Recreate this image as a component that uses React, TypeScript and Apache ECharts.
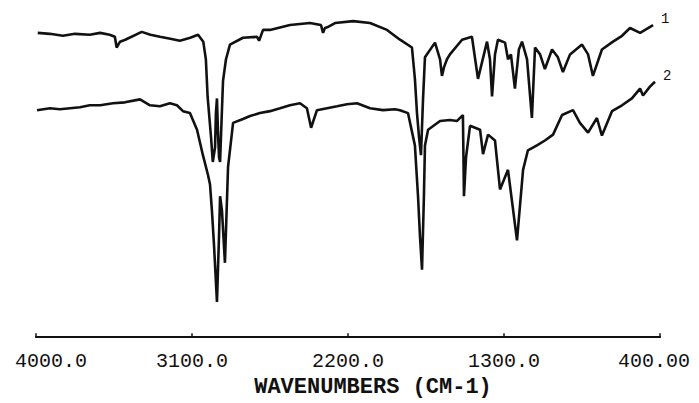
import React, { useEffect, useRef } from "react";
import * as echarts from "echarts";

// Wavenumbers (cm-1) and transmittance (%)
const wn1 = [3990,3920,3845,3775,3690,3630,3575,3545,3535,3515,3485,3390,3340,3285,3225,3170,3110,3065,3035,3020,3010,2990,2980,2967,2962,2956,2950,2944,2938,2933,2921,2904,2881,2806,2725,2713,2690,2650,2535,2420,2356,2344,2333,2315,2275,2170,2073,1975,1900,1831,1814,1802,1790,1779,1767,1756,1698,1669,1658,1646,1629,1612,1542,1485,1450,1398,1381,1369,1352,1335,1294,1277,1260,1237,1214,1196,1167,1139,1121,1092,1064,1023,989,960,919,850,815,787,735,671,619,573,515,440];
const t1 = [93.3,93.0,92.4,93.0,92.7,93.3,92.7,92.1,88.8,90.6,91.2,93.6,92.7,92.1,91.5,90.9,91.8,92.7,90.6,85.2,73.8,61.2,53.7,58.2,68.7,73.2,62.7,55.2,53.7,61.2,78.6,85.2,89.7,91.8,92.1,90.9,94.2,94.2,95.7,96.3,95.7,93.3,94.8,95.1,96.3,96.9,96.3,94.2,91.2,88.8,79.2,68.7,61.2,55.8,73.2,85.8,90.3,85.2,80.1,82.8,85.2,86.7,91.2,92.1,79.2,90.6,85.2,73.8,86.7,91.2,90.3,85.2,86.7,76.2,88.2,90.6,85.2,67.2,88.8,86.7,82.2,88.2,85.8,81.3,86.7,89.7,86.7,80.1,88.2,90.6,92.4,94.8,93.3,95.7];

const wn2 = [3994,3920,3862,3804,3746,3690,3630,3556,3487,3400,3371,3342,3285,3227,3187,3152,3112,3071,3037,3008,2996,2985,2973,2956,2944,2938,2927,2910,2892,2863,2806,2765,2708,2650,2592,2535,2477,2437,2413,2379,2321,2263,2206,2148,2073,1998,1929,1900,1854,1814,1796,1785,1773,1762,1756,1738,1669,1612,1571,1537,1531,1519,1496,1438,1421,1392,1352,1323,1277,1225,1190,1162,1110,1064,1017,965,902,862,815,764,735,677,619,562,515,498,458,429];
const t2 = [69.6,70.2,69.9,70.2,70.5,71.1,71.1,71.7,72.0,72.9,72.0,71.1,70.8,71.7,71.1,69.3,68.7,63.6,55.8,49.8,46.8,38.7,28.2,10.8,31.2,43.2,38.7,22.8,52.2,65.7,66.9,67.8,68.7,69.3,70.2,71.1,71.7,70.2,64.2,69.6,70.2,70.8,71.4,71.7,70.2,69.6,69.9,69.6,68.7,58.8,43.2,31.2,20.7,43.2,58.8,63.6,66.3,66.6,66.3,68.1,43.2,55.2,64.8,63.6,56.1,62.1,60.3,45.3,51.3,29.7,51.3,57.3,58.8,60.3,62.1,68.1,69.6,65.7,62.7,67.2,61.8,69.3,71.1,73.2,76.2,74.1,76.8,78.3];

const tickLabels = ["4000.0", "3100.0", "2200.0", "1300.0", "400.00"];
const seriesNames = ["1", "2"];
const axisTitle = "WAVENUMBERS (CM-1)";

const MONO = "'Liberation Mono', 'DejaVu Sans Mono', monospace";

export default function App() {
  const ref = useRef<HTMLDivElement>(null);
  useEffect(() => {
    if (!ref.current) return;
    const chart = echarts.init(ref.current, undefined, { renderer: "svg" });
    const toData = (wn: number[], t: number[]) => wn.map((w, i) => [4000 - w, t[i]]);
    const mkSeries = (name: string, data: number[][]) => ({
      name,
      type: "line",
      data,
      showSymbol: false,
      symbol: "none",
      lineStyle: { color: "#111", width: 2.6 },
      endLabel: {
        show: true,
        formatter: name,
        color: "#111",
        fontFamily: MONO,
        fontSize: 14,
        offset: [0, -6],
      },
    });
    const lbl = { fontFamily: MONO, fontSize: 20, color: "#111" };
    chart.setOption({
      animation: false,
      backgroundColor: "#fff",
      grid: { left: 36, right: 39, top: 11, bottom: 55 },
      xAxis: {
        type: "value",
        min: 0,
        max: 3600,
        interval: 900,
        axisLine: { lineStyle: { color: "#111", width: 2.2 } },
        axisTick: { show: true, inside: true, length: 4, lineStyle: { color: "#111", width: 1.5 } },
        splitLine: { show: false },
        axisLabel: {
          formatter: (v: number) => {
            const i = Math.round(v / 900);
            const s = tickLabels[i] ?? "";
            if (i === 0) return `{first|${s}}`;
            if (i === tickLabels.length - 1) return `{last|${s}}`;
            return `{mid|${s}}`;
          },
          rich: {
            first: { ...lbl, padding: [0, 0, 0, 30] },
            mid: { ...lbl },
            last: { ...lbl, padding: [0, 12, 0, 0] },
          },
          ...lbl,
          margin: 10,
        },
        name: axisTitle,
        nameLocation: "middle",
        nameGap: 32,
        nameTextStyle: {
          color: "#111",
          fontFamily: MONO,
          fontSize: 22,
          fontWeight: "bold",
          padding: [0, 0, 0, 50],
        },
      },
      yAxis: { type: "value", min: -1.2, max: 100, show: false },
      series: [mkSeries(seriesNames[0], toData(wn1, t1)), mkSeries(seriesNames[1], toData(wn2, t2))],
    });
    return () => chart.dispose();
  }, []);
  return (
    <div
      ref={ref}
      style={{ position: "fixed", left: 0, top: 0, width: 699, height: 403, background: "#fff" }}
    />
  );
}
